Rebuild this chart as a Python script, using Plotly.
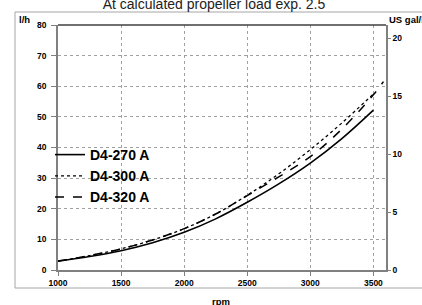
import plotly.graph_objects as go

# ---- data ----
rpm = [1000, 1250, 1500, 1750, 2000, 2250, 2500, 2750, 3000, 3250, 3500]
d4_270 = [2.9, 4.4, 6.3, 8.9, 12.3, 16.7, 22.1, 28.1, 34.9, 42.9, 52.2]
d4_300 = [2.9, 4.7, 6.9, 9.8, 13.5, 18.3, 24.4, 31.4, 39.3, 48.0, 57.5]
rpm_320 = [1000, 1250, 1500, 1750, 2000, 2250, 2500, 2750, 3000, 3250, 3500, 3580]
d4_320 = [2.9, 4.7, 6.9, 9.8, 13.5, 18.3, 24.3, 30.4, 37.0, 46.0, 57.2, 61.5]

x_ticks = [1000, 1500, 2000, 2500, 3000, 3500]
y_ticks = [0, 10, 20, 30, 40, 50, 60, 70, 80]
y2_ticks = [0, 5, 10, 15, 20]
L_PER_GAL = 3.785

title_text = "At calculated propeller load exp. 2.5"

W, H = 422, 305
ml, mr, mt, mb = 58, 36, 25, 35
pw, ph = W - ml - mr, H - mt - mb


def px(xp):
    return (xp - ml) / pw


def py(yp):
    return (H - mb - yp) / ph


fig = go.Figure()
fig.add_trace(go.Scatter(x=rpm, y=d4_270, mode="lines", name="D4-270 A",
                         line=dict(color="black", width=1.6, shape="spline")))
fig.add_trace(go.Scatter(x=rpm, y=d4_300, mode="lines", name="D4-300 A",
                         line=dict(color="black", width=1.3, dash="dot", shape="spline")))
fig.add_trace(go.Scatter(x=rpm_320, y=d4_320, mode="lines", name="D4-320 A",
                         line=dict(color="black", width=1.5, dash="dash", shape="spline")))
# invisible trace to activate secondary axis
fig.add_trace(go.Scatter(x=[1000], y=[0], yaxis="y2", mode="markers",
                         marker=dict(opacity=0), showlegend=False, hoverinfo="skip"))

tickfont = dict(family="Liberation Sans, Arial, sans-serif", size=8.5, color="black", weight="bold")

fig.update_layout(
    width=W, height=H,
    margin=dict(l=ml, r=mr, t=mt, b=mb),
    paper_bgcolor="white", plot_bgcolor="white",
    title=dict(text=title_text, x=214 / W, xanchor="center", y=1 - 4.5 / H, yanchor="middle",
               yref="container",
               font=dict(family="Liberation Sans, Arial, sans-serif", size=14, color="#222222")),
    xaxis=dict(range=[1000, 3600], tickvals=x_ticks, ticks="outside", ticklen=4,
               tickcolor="#808080", showline=True, linecolor="#808080", linewidth=1.5,
               showgrid=True, gridcolor="#a0a0a0", griddash="dot", gridwidth=1,
               tickfont=tickfont, zeroline=False, fixedrange=True),
    yaxis=dict(range=[0, 80], tickvals=y_ticks, ticks="outside", ticklen=5,
               tickcolor="#808080", showline=True, linecolor="#808080", linewidth=1.5,
               showgrid=True, gridcolor="#a0a0a0", griddash="dot", gridwidth=1,
               tickfont=tickfont, zeroline=False, ticklabelstandoff=3),
    yaxis2=dict(range=[0, 80 / L_PER_GAL], tickvals=y2_ticks, overlaying="y", side="right",
                ticks="outside", ticklen=3, tickcolor="#808080", showline=True,
                linecolor="#808080", linewidth=1.5, showgrid=False, zeroline=False,
                tickfont=tickfont),
    legend=dict(x=px(50), y=py(139), xanchor="left", yanchor="top", bgcolor="rgba(0,0,0,0)",
                font=dict(family="Liberation Sans, Arial, sans-serif", size=14, color="black",
                          weight="bold"),
                tracegroupgap=0, itemwidth=30),
    showlegend=True,
)

# frame around chart area and top border of plot
fig.add_shape(type="rect", xref="paper", yref="paper", x0=px(15), x1=px(440),
              y0=py(288), y1=py(12), line=dict(color="#a6a6a6", width=1), layer="below")
fig.add_shape(type="line", xref="paper", yref="paper", x0=0, x1=1, y0=1, y1=1,
              line=dict(color="#404040", width=1.5))

axis_font = dict(family="Liberation Sans, Arial, sans-serif", size=9.5, color="black", weight="bold")
fig.add_annotation(text="l/h", xref="paper", yref="paper", x=px(17), y=py(20),
                   xanchor="left", yanchor="middle", showarrow=False, font=axis_font)
fig.add_annotation(text="US gal/h", xref="paper", yref="paper", x=px(387), y=py(20),
                   xanchor="left", yanchor="middle", showarrow=False, font=axis_font)
fig.add_annotation(text="rpm", xref="paper", yref="paper", x=px(221), y=py(301),
                   xanchor="center", yanchor="middle", showarrow=False, font=axis_font)

fig.write_html("out.html", config={"displayModeBar": False},
               post_script="document.body.style.margin='0';document.body.style.overflow='hidden';")
